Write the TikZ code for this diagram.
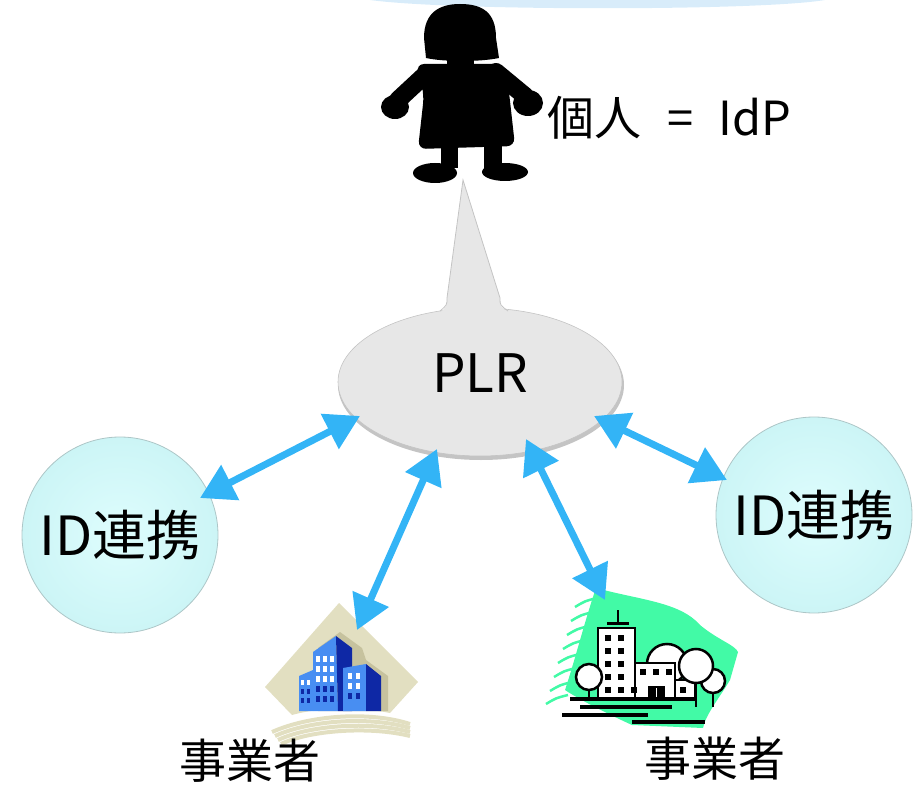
\documentclass[tikz,border=0pt]{standalone}
\usepackage{fontspec}
\setmainfont{Noto Sans CJK JP}
\usetikzlibrary{arrows.meta}

\definecolor{linkblue}{RGB}{51,180,246}
\definecolor{bubblegray}{RGB}{231,231,231}
\definecolor{bubblerim}{RGB}{196,196,196}
\definecolor{idfill}{RGB}{222,253,253}
\definecolor{idrim}{RGB}{204,245,246}
\definecolor{sky}{RGB}{216,236,250}
\definecolor{sand}{RGB}{226,223,193}
\definecolor{sanddark}{RGB}{198,194,158}
\definecolor{bldlight}{RGB}{72,142,242}
\definecolor{blddark}{RGB}{14,40,165}
\definecolor{mint}{RGB}{66,250,166}

\newcommand{\jpbig}{\fontsize{47}{52}\selectfont}
\newcommand{\idfont}{\fontsize{54}{58}\selectfont}
\newcommand{\plrfont}{\fontsize{53}{58}\selectfont}

\begin{document}
\begin{tikzpicture}[x=1pt, y=-1pt,
    every node/.style={inner sep=0pt},
    link/.style={linkblue, line width=7pt,
      {Triangle[length=34pt,width=38pt]}-{Triangle[length=34pt,width=38pt]}},
    idball/.style={circle, minimum size=196pt, draw=idrim!60!gray, line width=0.8pt,
      inner color=idfill, outer color=idrim, font=\idfont},
    caption/.style={font=\jpbig},
    outline/.style={draw=black, fill=white, line width=2.5pt},
  ]
  \useasboundingbox (0,0) rectangle (918,786);

  % sky strip at the top
  \fill[sky] (370,0) .. controls (450,11) and (760,11) .. (825,0) -- cycle;

  % speech bubble
  \fill[bubblerim] (481,385) ellipse [x radius=143, y radius=75];
  \fill[bubblegray, draw=bubblerim, line width=0.6pt] (480,382) ellipse [x radius=142, y radius=74];
  \fill[bubblegray] (440,313) .. controls (447,306) .. (447,298) -- (463,180)
    -- (500,298) .. controls (500,306) .. (508,313) -- cycle;
  \draw[bubblerim, line width=0.8pt] (440,311) .. controls (447,305) .. (447,298)
    -- (463,180) -- (500,298) .. controls (500,305) .. (508,311);
  \node[font=\plrfont] (plr) at (480,373) {PLR};

  % person
  \begin{scope}[black]
    \fill (426,58) -- (424,38) .. controls (424,12) and (440,4) .. (460,4)
      .. controls (482,4) and (496,12) .. (496,38) -- (499,58)
      .. controls (480,62) and (444,62) .. cycle;
    \fill (447,52) rectangle (474,70);
    \fill[rounded corners=8pt] (416,64) -- (504,64) -- (509,92) -- (515,146)
      -- (418,149) -- (424,95) -- cycle;
    \draw[line width=18pt, line cap=round] (426,74) -- (398,100);
    \draw[line width=18pt, line cap=round] (496,72) -- (525,96);
    \fill (395,107) ellipse [x radius=14, y radius=12];
    \fill (528,103) ellipse [x radius=15, y radius=13];
    \fill (441,140) rectangle (458,168);
    \fill (484,140) rectangle (502,168);
    \fill (435,173) ellipse [x radius=22, y radius=10];
    \fill (505,172) ellipse [x radius=23, y radius=9];
  \end{scope}
  \node[caption, anchor=west] (idp) at (547,118) {個人\hspace{0.55em}=\hspace{0.55em}IdP};

  % federation circles
  \node[idball] (idl) at (120,535) {ID連携};
  \node[idball] (idr) at (814,515) {ID連携};

  % office towers
  \fill[sand] (339,603) -- (418,682) -- (390,713) .. controls (360,707) and (320,707) .. (292,715)
    -- (265,687) -- cycle;
  \fill[sanddark] (318,648) -- (340,632) -- (362,648) -- (366,660) -- (388,676)
    -- (388,711) -- (318,711) -- cycle;
  \fill[bldlight] (299,676) -- (313,670) -- (313,711) -- (299,711) -- cycle;
  \fill[bldlight] (313,652) -- (336,636) -- (338,711) -- (313,711) -- cycle;
  \fill[blddark] (336,636) -- (352,648) -- (352,711) -- (338,711) -- cycle;
  \fill[bldlight] (343,668) -- (366,664) -- (366,711) -- (343,711) -- cycle;
  \fill[blddark] (366,664) -- (381,676) -- (381,711) -- (366,711) -- cycle;
  \foreach \c in {0,1,2}{
    \foreach \r in {0,1,2} \fill[white] (316+7*\c,656+10*\r) rectangle ++(4,6);
    \foreach \r in {3,4} \fill[blddark] (316+7*\c,656+10*\r) rectangle ++(4,6);
  }
  \foreach \c in {0,1}{
    \fill[white] (301+6*\c,680) rectangle ++(3,5);
    \foreach \r in {1,2} \fill[blddark] (301+6*\c,680+9*\r) rectangle ++(3,5);
    \foreach \r in {0,1} \fill[white] (348+8*\c,673+10*\r) rectangle ++(4,6);
    \fill[blddark] (348+8*\c,693) rectangle ++(4,6);
  }
  \foreach \i in {0,...,3}
    \draw[sand, line width=4pt] (272+3*\i,732+4*\i) .. controls (310,715+5*\i) and (370,711+5*\i) .. (410,724+4*\i);

  % campus with trees
  \fill[mint] (596,588) .. controls (640,600) and (680,602) .. (700,625)
    .. controls (718,640) and (735,645) .. (738,652) -- (730,680)
    .. controls (718,700) and (706,714) .. (703,728) -- (632,725)
    .. controls (610,715) and (580,700) .. (565,690)
    .. controls (575,660) and (585,620) .. (596,588) -- cycle;
  \foreach \y/\x in {600/591,614/587,628/583,642/579,656/574,670/570,684/566,697/562}
    \draw[mint, line width=2.5pt] (\x-16,\y+7) .. controls (\x-6,\y+1) .. (\x+6,\y-2);
  \draw[line width=2.5pt] (618,610) -- (618,624);
  \draw[line width=3pt] (607,623) -- (629,623);
  \draw[outline] (667,664) circle (20);
  \draw[outline] (598,628) rectangle (635,699);
  \draw[outline] (635,663) rectangle (675,699);
  \draw[outline] (675,680) rectangle (695,699);
  \foreach \r in {0,...,4} \foreach \c in {0,1} \fill (605+13*\c,635+13*\r) rectangle ++(6,6);
  \foreach \c in {0,1,2} \fill (640+13*\c,669) rectangle ++(6,6);
  \fill (631,687) rectangle ++(6,6);
  \fill (680,687) rectangle ++(6,6);
  \fill (648,686) rectangle (665,699);
  \draw[white, line width=1.5pt] (656.5,688) -- (656.5,699);
  \draw[outline] (713,681) circle (12);
  \draw[line width=2.5pt] (713,693) -- (713,707);
  \draw[outline] (696,666) circle (17);
  \draw[line width=2.5pt] (696,683) -- (696,707);
  \draw[outline] (589,677) circle (13);
  \draw[line width=2.5pt] (589,690) -- (589,699);
  \draw[line width=3.5pt] (570,699) -- (697,699);
  \draw[line width=4pt] (580,707) -- (672,707);
  \draw[line width=4pt] (562,715) -- (648,715);
  \draw[line width=4pt] (632,722) -- (705,722);

  \node[caption] (bizAtext) at (250,761) {事業者};
  \node[caption] (bizBtext) at (715,759) {事業者};

  % arrow ends
  \coordinate (plrA) at (360,416);
  \coordinate (plrB) at (437,449);
  \coordinate (plrC) at (526,439);
  \coordinate (plrD) at (594,416);
  \coordinate (idlE) at (200,498);
  \coordinate (idrW) at (727,480);
  \coordinate (bizA) at (357,630);
  \coordinate (bizB) at (605,600);

  \draw[link] (idlE) -- (plrA);
  \draw[link] (bizA) -- (plrB);
  \draw[link] (bizB) -- (plrC);
  \draw[link] (idrW) -- (plrD);
\end{tikzpicture}
\end{document}
